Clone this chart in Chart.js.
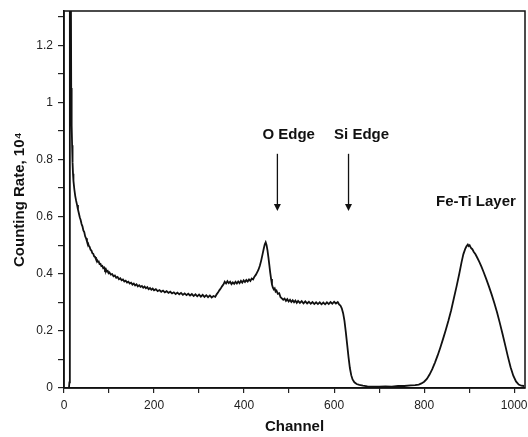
<!DOCTYPE html>
<html>
<head>
<meta charset="utf-8">
<script src="https://cdn.jsdelivr.net/npm/chart.js@4"></script>
<style>
  body { margin: 0; background: #fff; }
  canvas { display: block; }
</style>
</head>
<body>
<canvas id="chart" width="528" height="437"></canvas>
<script>
// spectrum: channel number and counting rate (x 10^4)
const channels = [
  0, 11, 12, 13, 15, 16, 17, 18, 19, 20, 21, 23, 25, 27, 29, 31, 33, 35, 37, 39,
  41, 43, 45, 47, 49, 51, 53, 55, 57, 59, 61, 63, 65, 67, 69, 71, 73, 75, 77, 79,
  81, 83, 85, 87, 89, 91, 93, 95, 97, 99, 101, 104, 107, 110, 113, 116, 119, 122, 125, 128,
  131, 134, 137, 140, 143, 146, 149, 152, 155, 158, 161, 164, 167, 170, 173, 176, 179, 182, 185, 188,
  191, 194, 197, 200, 204, 208, 212, 216, 220, 224, 228, 232, 236, 240, 244, 248, 252, 256, 260, 264,
  268, 272, 276, 280, 284, 288, 292, 296, 300, 304, 308, 312, 316, 320, 324, 328, 332, 336, 339, 342,
  345, 348, 351, 354, 357, 360, 363, 366, 369, 372, 375, 378, 381, 384, 387, 390, 393, 396, 399, 402,
  405, 408, 411, 414, 417, 420, 423, 426, 429, 432, 435, 438, 441, 444, 446, 448, 450, 452, 454, 456,
  458, 460, 462, 464, 466, 468, 470, 472, 475, 478, 481, 484, 487, 490, 493, 496, 499, 502, 505, 508,
  511, 514, 517, 520, 524, 528, 532, 536, 540, 544, 548, 552, 556, 560, 564, 568, 572, 576, 580, 584,
  588, 592, 596, 600, 604, 608, 611, 614, 617, 620, 623, 626, 629, 632, 635, 638, 641, 645, 650, 656,
  664, 674, 686, 700, 714, 728, 742, 756, 770, 780, 788, 794, 800, 806, 812, 818, 824, 830, 836, 842,
  848, 854, 860, 866, 872, 878, 883, 887, 891, 894, 897, 899, 901, 904, 907, 910, 914, 918, 922, 927,
  932, 938, 944, 950, 956, 962, 968, 974, 980, 986, 992, 998, 1004, 1010, 1016, 1022
];
const countRate = [
  0, 0, 0.02, 1.6, 1.6, 1.05, 0.92, 0.85, 0.79, 0.75, 0.725, 0.695, 0.672, 0.655, 0.641, 0.625, 0.612, 0.598, 0.588, 0.574,
  0.566, 0.552, 0.546, 0.531, 0.524, 0.513, 0.509, 0.498, 0.494, 0.484, 0.481, 0.472, 0.47, 0.461, 0.459, 0.451, 0.45, 0.442, 0.443, 0.434,
  0.435, 0.427, 0.428, 0.42, 0.422, 0.413, 0.416, 0.408, 0.41, 0.402, 0.405, 0.397, 0.399, 0.391, 0.394, 0.386, 0.389, 0.381, 0.384, 0.377,
  0.38, 0.373, 0.376, 0.369, 0.372, 0.366, 0.369, 0.362, 0.366, 0.359, 0.363, 0.356, 0.36, 0.354, 0.357, 0.351, 0.355, 0.349, 0.353, 0.346,
  0.35, 0.344, 0.348, 0.342, 0.346, 0.339, 0.343, 0.337, 0.341, 0.335, 0.339, 0.333, 0.337, 0.331, 0.335, 0.329, 0.334, 0.328, 0.333, 0.326,
  0.331, 0.325, 0.33, 0.324, 0.329, 0.322, 0.328, 0.321, 0.327, 0.32, 0.326, 0.319, 0.325, 0.318, 0.324, 0.317, 0.322, 0.319, 0.328, 0.334,
  0.342, 0.348, 0.356, 0.362, 0.372, 0.366, 0.374, 0.367, 0.372, 0.364, 0.37, 0.365, 0.372, 0.366, 0.373, 0.367, 0.375, 0.369, 0.377, 0.371,
  0.378, 0.373, 0.38, 0.375, 0.383, 0.38, 0.39, 0.396, 0.405, 0.414, 0.428, 0.446, 0.468, 0.49, 0.503, 0.51, 0.5, 0.482, 0.458, 0.432,
  0.405, 0.382, 0.362, 0.351, 0.345, 0.349, 0.338, 0.341, 0.33, 0.332, 0.318, 0.314, 0.309, 0.313, 0.305, 0.311, 0.303, 0.309, 0.301, 0.307,
  0.3, 0.306, 0.298, 0.305, 0.298, 0.304, 0.296, 0.303, 0.296, 0.302, 0.295, 0.301, 0.294, 0.3, 0.294, 0.3, 0.293, 0.299, 0.293, 0.3,
  0.294, 0.301, 0.295, 0.302, 0.296, 0.301, 0.293, 0.289, 0.279, 0.262, 0.235, 0.196, 0.152, 0.108, 0.07, 0.045, 0.03, 0.02, 0.014, 0.011,
  0.008, 0.006, 0.005, 0.005, 0.006, 0.005, 0.007, 0.007, 0.009, 0.01, 0.012, 0.016, 0.022, 0.032, 0.047, 0.066, 0.089, 0.114, 0.142, 0.172,
  0.203, 0.236, 0.272, 0.314, 0.356, 0.4, 0.44, 0.468, 0.486, 0.496, 0.502, 0.497, 0.5, 0.49, 0.486, 0.477, 0.468, 0.456, 0.443, 0.426,
  0.406, 0.381, 0.355, 0.327, 0.297, 0.264, 0.228, 0.19, 0.15, 0.11, 0.073, 0.043, 0.023, 0.012, 0.008, 0.007
];

// tick positions (labels only on every other one)
const channelTicks = [0, 100, 200, 300, 400, 500, 600, 700, 800, 900, 1000];
const rateTicks = [0, 0.1, 0.2, 0.3, 0.4, 0.5, 0.6, 0.7, 0.8, 0.9, 1, 1.1, 1.2, 1.3];

// annotations
const labelTexts = ['O Edge', 'Si Edge', 'Fe-Ti Layer'];
const labelChannels = [499, 661, 915];
const labelRates = [0.885, 0.885, 0.65];
const arrowChannels = [474, 632];
const arrowFrom = 0.82;
const arrowTo = 0.62;

const FONT = '"Liberation Sans", Arial, Helvetica, sans-serif';
const INK = '#111';

const annotate = {
  id: 'annotate',
  afterDraw(chart) {
    const { ctx, chartArea, scales: { x, y } } = chart;
    ctx.save();
    // box round the plot
    ctx.strokeStyle = INK;
    ctx.lineWidth = 1.5;
    ctx.strokeRect(chartArea.left, chartArea.top, chartArea.right - chartArea.left, chartArea.bottom - chartArea.top);

    // arrows
    ctx.fillStyle = INK;
    ctx.lineWidth = 1.3;
    arrowChannels.forEach(ch => {
      const px = x.getPixelForValue(ch);
      const y0 = y.getPixelForValue(arrowFrom);
      const y1 = y.getPixelForValue(arrowTo);
      ctx.beginPath();
      ctx.moveTo(px, y0);
      ctx.lineTo(px, y1 - 6);
      ctx.stroke();
      ctx.beginPath();
      ctx.moveTo(px - 3.5, y1 - 7);
      ctx.lineTo(px + 3.5, y1 - 7);
      ctx.lineTo(px, y1);
      ctx.closePath();
      ctx.fill();
    });

    // labels
    ctx.font = 'bold 15px ' + FONT;
    ctx.textAlign = 'center';
    ctx.textBaseline = 'middle';
    labelTexts.forEach((t, i) => {
      ctx.fillText(t, x.getPixelForValue(labelChannels[i]), y.getPixelForValue(labelRates[i]));
    });
    ctx.restore();
  }
};

new Chart(document.getElementById('chart'), {
  type: 'line',
  data: {
    datasets: [{
      data: channels.map((c, i) => ({ x: c, y: countRate[i] })),
      borderColor: INK,
      borderWidth: 1.8,
      pointRadius: 0,
      tension: 0,
      fill: false
    }]
  },
  options: {
    responsive: false,
    animation: false,
    layout: { padding: { top: 11, right: 3, left: 0, bottom: 0 } },
    plugins: { legend: { display: false }, tooltip: { enabled: false } },
    scales: {
      x: {
        type: 'linear',
        min: 0,
        max: 1024,
        afterBuildTicks(scale) { scale.ticks = channelTicks.map(v => ({ value: v })); },
        afterFit(scale) {
          scale.height = 49;
          scale.paddingLeft = 0;
          scale.paddingRight = 0;
        },
        grid: { drawOnChartArea: false, tickLength: 5, color: '#222', lineWidth: 1.2 },
        border: { color: INK, width: 1.5 },
        ticks: {
          autoSkip: false,
          maxRotation: 0,
          padding: 5,
          color: '#222',
          font: { family: FONT, size: 12 },
          callback: v => (Math.round(v) % 200 === 0 ? String(Math.round(v)) : '')
        },
        title: {
          display: true,
          text: 'Channel',
          color: INK,
          font: { family: FONT, size: 15, weight: 'bold' },
          padding: { top: 0, bottom: 1 }
        }
      },
      y: {
        min: 0,
        max: 1.32,
        afterBuildTicks(scale) { scale.ticks = rateTicks.map(v => ({ value: v })); },
        afterFit(scale) {
          scale.width = 64;
          scale.paddingTop = 0;
          scale.paddingBottom = 0;
        },
        grid: { drawOnChartArea: false, tickLength: 6, color: '#222', lineWidth: 1.2 },
        border: { color: INK, width: 1.5 },
        ticks: {
          autoSkip: false,
          padding: 5,
          color: '#222',
          font: { family: FONT, size: 12 },
          callback: v => {
            const r = Math.round(v * 10);
            return r % 2 === 0 ? String(r / 10) : '';
          }
        },
        title: {
          display: true,
          text: 'Counting Rate, 10\u2074',
          color: INK,
          font: { family: FONT, size: 15, weight: 'bold' },
          padding: { top: 11, bottom: 0 }
        }
      }
    }
  },
  plugins: [annotate]
});
</script>
</body>
</html>
